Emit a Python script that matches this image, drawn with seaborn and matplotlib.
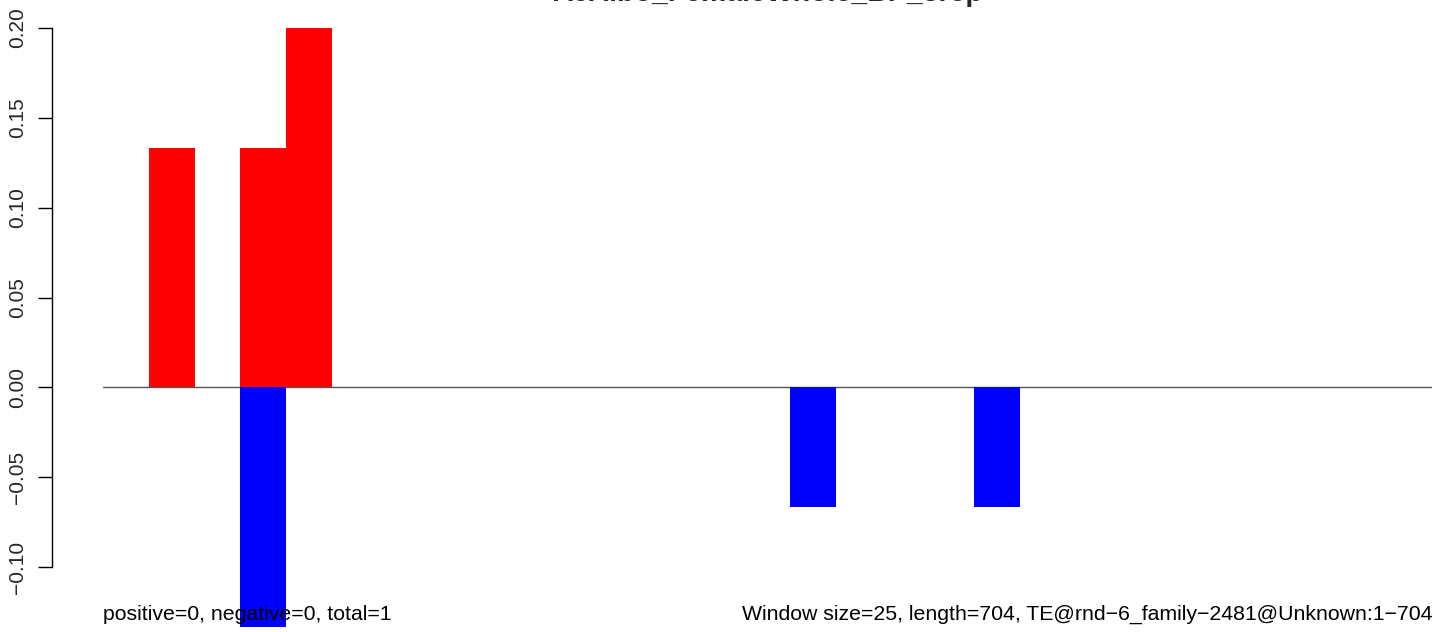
import numpy as np
import pandas as pd
import seaborn as sns
import matplotlib.pyplot as plt

## chart data
title = "AeAlbo_FemaleWhole_BP_3rep"
windows = list(range(29))
plus_vals = [0, 0.1333, 0, 0.1333, 0.2, 0, 0, 0, 0, 0, 0, 0, 0, 0, 0,
             0, 0, 0, 0, 0, 0, 0, 0, 0, 0, 0, 0, 0, 0]
minus_vals = [0, 0, 0, -0.1333, 0, 0, 0, 0, 0, 0, 0, 0, 0, 0, 0,
              -0.0667, 0, 0, 0, -0.0667, 0, 0, 0, 0, 0, 0, 0, 0, 0]
ytick_vals = [-0.10, -0.05, 0.00, 0.05, 0.10, 0.15, 0.20]
ytick_labels = ["\u22120.10", "\u22120.05", "0.00", "0.05", "0.10", "0.15", "0.20"]
left_note = "positive=0, negative=0, total=1"
right_note = "Window size=25, length=704, TE@rnd\u22126_family\u22122481@Unknown:1\u2212704"

df = pd.concat([
    pd.DataFrame({"window": windows, "value": plus_vals, "strand": "plus"}),
    pd.DataFrame({"window": windows, "value": minus_vals, "strand": "minus"}),
])

sns.set_style("white")
plt.rcParams['font.family'] = ['Liberation Sans', 'DejaVu Sans']

W, H = 1444, 632
fig = plt.figure(figsize=(W / 100, H / 100), dpi=100)
ax = fig.add_axes([103 / W, 1 - 627 / H, (1432 - 103) / W, (627 - 28) / H])

sns.barplot(data=df, x="window", y="value", hue="strand",
            palette={"plus": "#ff0000", "minus": "#0000ff"},
            dodge=False, width=1.0, saturation=1, errorbar=None,
            legend=False, ax=ax, linewidth=0)

ax.axhline(0, color="#555555", lw=1, zorder=0)
ax.set_xlim(-0.5, 28.5)
ax.set_ylim(-0.1333, 0.2)
ax.set_xlabel("")
ax.set_ylabel("")
ax.set_xticks([])

for s in ["top", "right", "bottom"]:
    ax.spines[s].set_visible(False)
# spine sits ~51 px left of the plot region
ax.spines["left"].set_position(("outward", 51 * 0.72))
ax.spines["left"].set_bounds(-0.10, 0.20)
ax.spines["left"].set_color("black")
ax.spines["left"].set_linewidth(1)

ax.set_yticks(ytick_vals)
ax.set_yticklabels(ytick_labels, rotation=90, va="center")
ax.tick_params(axis="y", length=10, width=1, color="black", pad=8,
               labelsize=15, left=True)

ax.set_title(title, fontsize=20.5, fontweight="bold", pad=19.5)

# notes go on top of the bars, like the reference
trans = ax.get_yaxis_transform()
for x, note, ha in [(0, left_note, "left"), (1, right_note, "right")]:
    t = ax.text(x, -0.1263, note, transform=trans, ha=ha, va="center",
                fontsize=15.3, color="black")
    t.set_zorder(50)

plt.savefig("out.png", dpi=100)
plt.close()
